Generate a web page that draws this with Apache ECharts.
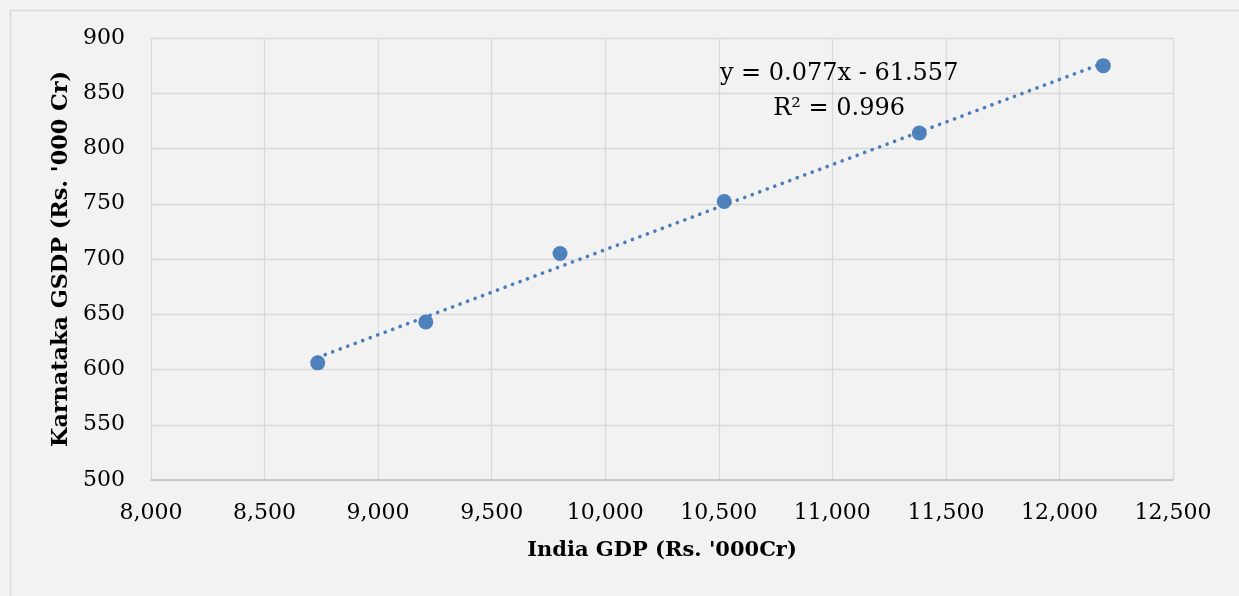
<!DOCTYPE html>
<html>
<head>
<meta charset="utf-8">
<script src="https://cdn.jsdelivr.net/npm/echarts@6/dist/echarts.min.js"></script>
<style>
  html, body { margin: 0; padding: 0; background: #f2f2f2; }
  #chart { width: 1239px; height: 596px; }
</style>
</head>
<body>
<div id="chart"></div>
<script>
// ---- Data ----
var indiaGDP = [8734, 9210, 9801, 10524, 11383, 12193];
var karnatakaGSDP = [606, 643, 705, 752, 814, 875];
var trendCoef = [0.077, -61.557];   // slope, intercept (as shown in the chart)
var trendR2 = 0.996;
var xTitle = "India GDP (Rs. '000Cr)";
var yTitle = "Karnataka GSDP (Rs. '000 Cr)";

var points = indiaGDP.map(function (x, i) { return [x, karnatakaGSDP[i]]; });
var xMin = Math.min.apply(null, indiaGDP), xMax = Math.max.apply(null, indiaGDP);
var trend = [[xMin, trendCoef[0] * xMin + trendCoef[1]], [xMax, trendCoef[0] * xMax + trendCoef[1]]];
var eqText = 'y = ' + trendCoef[0] + 'x - ' + Math.abs(trendCoef[1]) + '\nR\u00B2 = ' + trendR2;

var FONT = 'DejaVu Serif';
var chart = echarts.init(document.getElementById('chart'), null, { renderer: 'canvas' });
chart.setOption({
  backgroundColor: '#f2f2f2',
  animation: false,
  textStyle: { fontFamily: FONT },
  graphic: [{
    type: 'rect', left: 8, top: 8, silent: true,
    shape: { width: 1400, height: 800 },
    style: { fill: 'none', stroke: '#d9d9d9', lineWidth: 1.5 }
  }],
  grid: { left: 151, right: 66, top: 38, bottom: 116, containLabel: false },
  xAxis: {
    type: 'value', min: 8000, max: 12500, interval: 500,
    name: xTitle, nameLocation: 'middle', nameGap: 60,
    nameTextStyle: { fontFamily: FONT, fontWeight: 'bold', fontSize: 21, color: '#000' },
    axisLine: { show: true, lineStyle: { color: '#bfbfbf', width: 1.5 } },
    axisTick: { show: false },
    axisLabel: {
      fontFamily: FONT, fontSize: 22, color: '#000', margin: 22,
      formatter: function (v) { return v.toLocaleString('en-US'); }
    },
    splitLine: { show: true, lineStyle: { color: '#d9d9d9', width: 1.3 } }
  },
  yAxis: {
    type: 'value', min: 500, max: 900, interval: 50,
    name: yTitle, nameLocation: 'middle', nameGap: 77,
    nameTextStyle: { fontFamily: FONT, fontWeight: 'bold', fontSize: 22.3, color: '#000' },
    axisLine: { show: false },
    axisTick: { show: false },
    axisLabel: { fontFamily: FONT, fontSize: 22, color: '#000', margin: 26 },
    splitLine: { show: true, lineStyle: { color: '#d9d9d9', width: 1.3 } }
  },
  series: [
    {
      type: 'line', data: trend, symbol: 'none', z: 3,
      lineStyle: { color: '#4a7ebb', width: 3.6, type: [0.1, 7.9], cap: 'round' },
      markPoint: {
        symbol: 'circle', symbolSize: 0,
        data: [{ coord: [11030, 852] }],
        label: {
          show: true, formatter: eqText, position: 'inside',
          fontFamily: FONT, fontSize: 24, color: '#000', lineHeight: 35, align: 'center'
        }
      }
    },
    {
      type: 'scatter', data: points, symbol: 'circle', symbolSize: 15, z: 2,
      itemStyle: { color: '#4f81bd', opacity: 1 }
    }
  ]
});
</script>
</body>
</html>
